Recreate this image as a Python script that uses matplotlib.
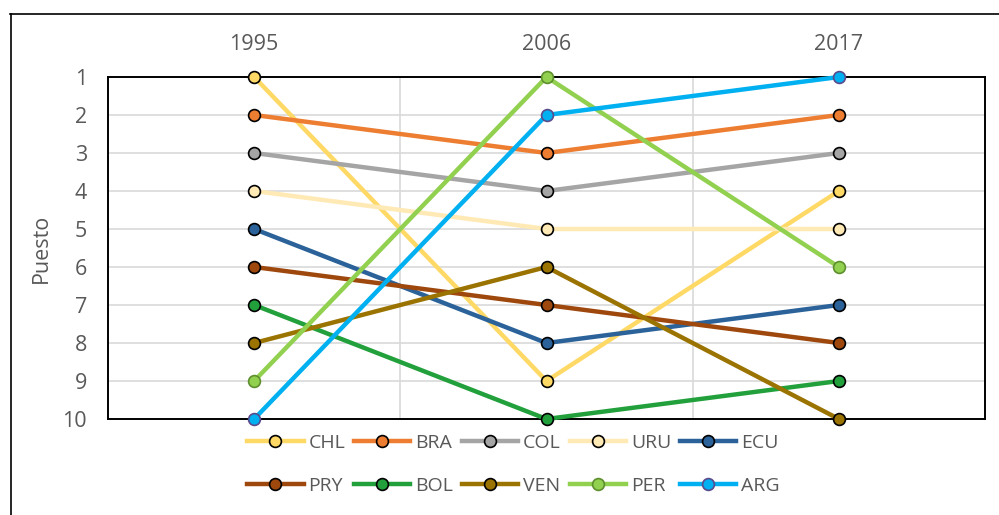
import matplotlib
matplotlib.use("Agg")
import matplotlib.pyplot as plt
from matplotlib.lines import Line2D

years = ["1995", "2006", "2017"]
countries = ["CHL", "BRA", "COL", "URU", "ECU", "PRY", "BOL", "VEN", "PER", "ARG"]
CHL = [1, 9, 4]
BRA = [2, 3, 2]
COL = [3, 4, 3]
URU = [4, 5, 5]
ECU = [5, 8, 7]
PRY = [6, 7, 8]
BOL = [7, 10, 9]
VEN = [8, 6, 10]
PER = [9, 1, 6]
ARG = [10, 2, 1]
ranks = [CHL, BRA, COL, URU, ECU, PRY, BOL, VEN, PER, ARG]
y_ticks = list(range(1, 11))

colors = ["#FFD966", "#ED7D31", "#A5A5A5", "#FFE9B5", "#2A6299",
          "#9E480E", "#22A03C", "#9A7300", "#92D050", "#00B0F0"]
edges = ["black"] * 8 + ["#5E8F2E", "#5A4A8C"]

plt.rcParams['font.family'] = ['Open Sans', 'DejaVu Sans']
TXT = "#595959"

fig = plt.figure(figsize=(9.99, 5.15), dpi=100)
W, H = 999, 515
ax = fig.add_axes([108 / W, 1 - 419 / H, (985 - 108) / W, (419 - 77) / H])

xs = [0.5, 1.5, 2.5]
handles = []
for name, vals, c, ec in zip(countries, ranks, colors, edges):
    h, = ax.plot(xs, vals, color=c, lw=3.2, marker='o', ms=8.5, mfc=c, mec=ec,
                 mew=1.2, label=name, clip_on=False, zorder=3)
    handles.append(h)

ax.set_xlim(0, 3)
ax.set_ylim(10, 1)
ax.set_xticks(xs)
ax.set_xticklabels(years)
ax.xaxis.tick_top()
ax.set_yticks(y_ticks)
ax.tick_params(axis='x', length=0, pad=16, labelsize=15.5, labelcolor=TXT)
ax.tick_params(axis='y', length=0, pad=15, labelsize=15.5, labelcolor=TXT)
for y in range(2, 10):
    ax.axhline(y, color="#D9D9D9", lw=1.2, zorder=1)
for x in [1, 2]:
    ax.axvline(x, color="#D9D9D9", lw=1.2, zorder=1)
for s in ax.spines.values():
    s.set_color("black")
    s.set_linewidth(1.4)
ax.set_ylabel("Puesto", fontsize=15.5, color=TXT, labelpad=8)

# reorder so legend reads row-wise (matplotlib fills column-wise)
order = [0, 5, 1, 6, 2, 7, 3, 8, 4, 9]
leg = fig.legend([handles[i] for i in order], [countries[i] for i in order],
                 loc='center', bbox_to_anchor=(513.5 / W, 1 - 464.5 / H), ncol=5,
                 frameon=False, fontsize=14, handlelength=2.9, handletextpad=0.25,
                 columnspacing=0.45, labelspacing=1.3)
for t in leg.get_texts():
    t.set_color(TXT)

fig.add_artist(Line2D([10.5 / W, 10.5 / W], [0, 1 - 14 / H], transform=fig.transFigure,
                      color="black", lw=1.2))
fig.add_artist(Line2D([10 / W, 1], [1 - 14.5 / H, 1 - 14.5 / H], transform=fig.transFigure,
                      color="black", lw=1.2))

fig.savefig("out.png", dpi=100)
